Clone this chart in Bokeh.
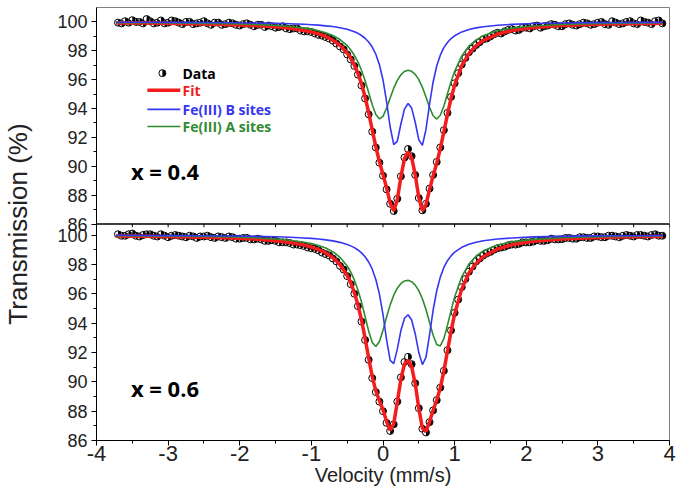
import math
from bokeh.plotting import figure
from bokeh.models import Range1d, FixedTicker, CustomJSTickFormatter, Span, Label
from bokeh.embed import file_html
from bokeh.resources import INLINE

# ---------------- data ----------------
# curve grid (mm/s)
curve_v = [-3.73, -3.3, -2.9, -2.5, -2.1, -1.8, -1.5, -1.3, -1.1, -1.0, -0.9, -0.8, -0.7, -0.6,
           -0.5, -0.45, -0.4, -0.35, -0.3, -0.25, -0.2, -0.15, -0.1, -0.05, 0.0, 0.05, 0.1, 0.15,
           0.2, 0.25, 0.3, 0.35, 0.4, 0.45, 0.5, 0.55, 0.6, 0.65, 0.7, 0.75, 0.8, 0.85, 0.9, 0.95, 1.0,
           1.1, 1.2, 1.3, 1.4, 1.6, 1.8, 2.1, 2.5, 2.9, 3.3, 3.7, 3.91]

top_fit = [99.93, 99.92, 99.895, 99.86, 99.81, 99.75, 99.66, 99.56, 99.41, 99.30, 99.17, 98.99, 98.73, 98.38,
           97.84, 97.48, 97.02, 96.44, 95.71, 94.80, 93.72, 92.52, 91.34, 90.31, 89.43, 88.50, 87.45, 86.91,
           87.69, 89.26, 90.53, 91.00, 90.61, 89.41, 87.83, 86.91, 87.35, 88.39, 89.34, 90.21, 91.22, 92.40,
           93.60, 94.70, 95.62,
           96.97, 97.81, 98.35, 98.72, 99.16, 99.40, 99.61, 99.75, 99.83, 99.87, 99.90, 99.91]
top_b = [99.98, 99.975, 99.97, 99.96, 99.94, 99.93, 99.90, 99.87, 99.84, 99.81, 99.78, 99.73, 99.68, 99.60,
         99.49, 99.41, 99.32, 99.21, 99.06, 98.87, 98.61, 98.26, 97.76, 97.04, 95.98, 94.48, 92.72, 91.50,
         91.74, 92.93, 93.96, 94.35, 94.03, 93.05, 91.83, 91.45, 92.55, 94.31, 95.84, 96.95, 97.70, 98.22,
         98.58, 98.85, 99.04,
         99.31, 99.48, 99.59, 99.67, 99.77, 99.83, 99.89, 99.93, 99.95, 99.96, 99.97, 99.97]
top_a = [99.95, 99.94, 99.93, 99.90, 99.87, 99.82, 99.76, 99.68, 99.57, 99.50, 99.39, 99.25, 99.06, 98.78,
         98.36, 98.06, 97.69, 97.23, 96.65, 95.93, 95.11, 94.26, 93.58, 93.28, 93.46, 94.02, 94.73, 95.41,
         95.95, 96.34, 96.57, 96.65, 96.58, 96.37, 96.00, 95.47, 94.80, 94.08, 93.50, 93.27, 93.53, 94.18,
         95.02, 95.85, 96.58,
         97.65, 98.33, 98.76, 99.05, 99.39, 99.57, 99.72, 99.82, 99.88, 99.91, 99.93, 99.94]

bot_fit = [99.93, 99.91, 99.88, 99.85, 99.79, 99.72, 99.61, 99.49, 99.31, 99.18, 99.01, 98.78, 98.46, 97.98,
           97.25, 96.74, 96.08, 95.24, 94.21, 92.97, 91.62, 90.35, 89.38, 88.72, 88.09, 87.29, 86.70, 87.14,
           88.62, 90.19, 91.20, 91.48, 91.03, 89.86, 88.20, 86.83, 86.60, 87.28, 88.06, 88.74, 89.58, 90.73,
           92.09, 93.43, 94.61,
           96.33, 97.41, 98.08, 98.52, 99.05, 99.33, 99.57, 99.72, 99.81, 99.86, 99.89, 99.90]
bot_b = [99.98, 99.97, 99.96, 99.95, 99.93, 99.91, 99.88, 99.85, 99.80, 99.77, 99.73, 99.67, 99.60, 99.50,
         99.36, 99.26, 99.14, 98.98, 98.78, 98.52, 98.16, 97.67, 96.97, 95.97, 94.58, 92.88, 91.46, 91.24,
         92.24, 93.49, 94.33, 94.57, 94.21, 93.26, 91.99, 91.17, 91.67, 93.22, 94.89, 96.20, 97.13, 97.79,
         98.25, 98.58, 98.83,
         99.16, 99.37, 99.51, 99.61, 99.73, 99.80, 99.87, 99.91, 99.94, 99.95, 99.96, 99.97]
bot_a = [99.95, 99.94, 99.92, 99.90, 99.86, 99.81, 99.73, 99.64, 99.51, 99.42, 99.29, 99.11, 98.86, 98.48,
         97.89, 97.47, 96.94, 96.26, 95.43, 94.45, 93.45, 92.68, 92.41, 92.75, 93.51, 94.41, 95.24, 95.90,
         96.38, 96.70, 96.87, 96.91, 96.82, 96.59, 96.21, 95.66, 94.93, 94.05, 93.17, 92.54, 92.44, 92.94,
         93.84, 94.85, 95.78,
         97.17, 98.03, 98.57, 98.92, 99.32, 99.53, 99.70, 99.81, 99.87, 99.90, 99.93, 99.93]

# measured points (mm/s), 0.05 mm/s channels
data_v = [-3.7, -3.65, -3.6, -3.55, -3.5, -3.45, -3.4, -3.35, -3.3, -3.25, -3.2, -3.15, -3.1, -3.05,
          -3.0, -2.95, -2.9, -2.85, -2.8, -2.75, -2.7, -2.65, -2.6, -2.55, -2.5, -2.45, -2.4, -2.35,
          -2.3, -2.25, -2.2, -2.15, -2.1, -2.05, -2.0, -1.95, -1.9, -1.85, -1.8, -1.75, -1.7, -1.65,
          -1.6, -1.55, -1.5, -1.45, -1.4, -1.35, -1.3, -1.25, -1.2, -1.15, -1.1, -1.05, -1.0, -0.95,
          -0.9, -0.85, -0.8, -0.75, -0.7, -0.65, -0.6,
          -0.55, -0.5, -0.45, -0.4, -0.35, -0.3, -0.25, -0.2, -0.15, -0.1, -0.05, 0.0, 0.05, 0.1, 0.15,
          0.2, 0.25, 0.3, 0.35, 0.4, 0.45, 0.5, 0.55, 0.6, 0.65, 0.7, 0.75, 0.8, 0.85, 0.9, 0.95, 1.0,
          1.05, 1.1, 1.15, 1.2, 1.25, 1.3, 1.35, 1.4, 1.45, 1.5, 1.55, 1.6, 1.65, 1.7, 1.75, 1.8, 1.85,
          1.9, 1.95, 2.0, 2.05, 2.1, 2.15, 2.2, 2.25, 2.3, 2.35, 2.4, 2.45, 2.5, 2.55, 2.6, 2.65, 2.7,
          2.75, 2.8, 2.85, 2.9, 2.95, 3.0, 3.05, 3.1, 3.15, 3.2, 3.25, 3.3, 3.35, 3.4, 3.45, 3.5, 3.55,
          3.6, 3.65, 3.7, 3.75, 3.8, 3.85, 3.9]
top_data = [99.95, 99.9, 100.05, 99.95, 100.12, 100.0, 100.0, 99.9, 100.2, 100.05, 99.9, 99.95, 100.1, 99.9,
            99.95, 100.1, 100.05, 99.95, 99.85, 100.0, 100.0, 99.85, 99.9, 99.95, 100.05, 99.9, 99.8, 99.95,
            99.95, 99.8, 99.85, 99.95, 99.9, 99.8, 99.75, 99.85, 99.9, 99.8, 99.7, 99.8, 99.8, 99.65,
            99.75, 99.7, 99.6, 99.65, 99.7, 99.55, 99.5, 99.55, 99.55, 99.4, 99.35, 99.35, 99.3, 99.2,
            99.1, 99.05, 98.95, 98.85, 98.7, 98.5, 98.3,
            98.1, 97.75, 97.4, 96.95, 96.35, 95.6, 94.7, 93.6, 92.4, 91.3, 90.25, 89.35, 88.4, 87.4, 86.9,
            87.75, 89.3, 90.6, 91.2, 90.7, 89.4, 87.8, 86.95, 87.4, 88.45, 89.4, 90.3, 91.3, 92.5, 93.7,
            94.8, 95.75,
            96.45, 97.05, 97.5, 97.9, 98.15, 98.4, 98.6, 98.8, 98.85, 99.0, 99.15, 99.25, 99.2, 99.35,
            99.45, 99.5, 99.4, 99.45, 99.6, 99.6, 99.55, 99.7, 99.75, 99.6, 99.7, 99.75, 99.85, 99.8,
            99.7, 99.7, 99.85, 99.9, 99.8, 99.75, 99.85, 99.95, 99.9, 99.8, 99.85, 99.95, 100.0, 99.85,
            99.8, 100.05, 99.95, 99.85, 99.9, 100.0, 100.05, 99.9, 99.85, 100.1, 100.0, 99.95, 99.85,
            100.05, 100.1, 99.9]
bot_data = [100.05, 99.95, 99.95, 100.05, 100.1, 99.95, 99.9, 100.0, 100.05, 100.05, 99.95, 99.9, 100.05,
            99.95, 99.85, 99.95, 100.0, 99.95, 99.9, 99.85, 99.95, 99.9, 99.8, 99.9, 99.9, 99.95, 99.85,
            99.8, 99.9, 99.85, 99.8, 99.9, 99.85, 99.75, 99.75, 99.8, 99.8, 99.7, 99.7, 99.75, 99.7, 99.6,
            99.6, 99.65, 99.6, 99.5, 99.5, 99.5, 99.45, 99.35, 99.35, 99.3, 99.25, 99.15, 99.1, 99.05,
            98.95, 98.8, 98.7, 98.6, 98.4, 98.2, 97.9,
            97.65, 97.2, 96.65, 96.0, 95.15, 94.1, 92.85, 91.5, 90.25, 89.3, 88.65, 88.0, 87.2, 86.65, 87.1,
            88.65, 90.3, 91.35, 91.7, 91.2, 89.9, 88.2, 86.8, 86.55, 87.25, 88.05, 88.75, 89.6, 90.75,
            92.15, 93.5, 94.7,
            95.6, 96.45, 97.0, 97.5, 97.85, 98.2, 98.4, 98.6, 98.75, 98.85, 99.0, 99.1, 99.15, 99.2, 99.3,
            99.35, 99.35, 99.4, 99.5, 99.5, 99.5, 99.55, 99.65, 99.6, 99.6, 99.65, 99.75, 99.7, 99.7,
            99.72, 99.8, 99.8, 99.75, 99.75, 99.85, 99.85, 99.8, 99.8, 99.9, 99.9, 99.85, 99.85, 99.95,
            99.95, 99.9, 99.85, 99.95, 100.0, 99.95, 99.9, 100.0, 100.0, 99.95, 99.9, 100.0, 100.05,
            99.95, 99.95]

x_ticks = [-4, -3, -2, -1, 0, 1, 2, 3, 4]
x_minor = [-3.5, -2.5, -1.5, -0.5, 0.5, 1.5, 2.5, 3.5]
y_ticks = [86, 88, 90, 92, 94, 96, 98, 100]
y_minor = [87, 89, 91, 93, 95, 97, 99]
legend_labels = ["Data", "Fit", "Fe(III) B sites", "Fe(III) A sites"]
panel_labels = ["x = 0.4", "x = 0.6"]

# ---------------- ranges ----------------
BOT_LO, BOT_HI = 86.0, 115.5      # bottom panel occupies 86 .. 100.75
TOP_LO, TOP_HI = 71.0, 101.0      # top panel occupies 86 .. 101
SEP = BOT_LO + (BOT_HI - BOT_LO) * (86.0 - TOP_LO) / (TOP_HI - TOP_LO)


def top_to_bot(t):
    return BOT_LO + (BOT_HI - BOT_LO) * (t - TOP_LO) / (TOP_HI - TOP_LO)


RED = "#f41c1c"
BLUE = "#3535f2"
GREEN = "#2f8b2f"
TXT = "#222222"
FONT = "Liberation Sans"
BFONT = "Open Sans"

p = figure(width=679, height=502, output_backend="svg", toolbar_location=None,
           x_range=Range1d(-4, 4), y_range=Range1d(BOT_LO, BOT_HI),
           min_border_left=96, min_border_right=10, min_border_top=7, min_border_bottom=62)
p.extra_y_ranges = {"top": Range1d(TOP_LO, TOP_HI)}
p.xgrid.visible = False
p.ygrid.visible = False
p.outline_line_color = "#808080"
p.outline_line_width = 1
p.background_fill_color = "white"
p.border_fill_color = "white"

# axes
p.xaxis.ticker = FixedTicker(ticks=x_ticks, minor_ticks=x_minor)
p.xaxis.formatter = CustomJSTickFormatter(code="return String(tick);")
top_major = [top_to_bot(t) for t in y_ticks]
top_minor = [top_to_bot(t) for t in y_minor]
p.yaxis.ticker = FixedTicker(ticks=y_ticks + top_major, minor_ticks=y_minor + top_minor)
p.yaxis.formatter = CustomJSTickFormatter(
    args=dict(sep=SEP - 0.05, blo=BOT_LO, bhi=BOT_HI, tlo=TOP_LO, thi=TOP_HI),
    code="""
    if (tick > sep) {
        return String(Math.round(tlo + (tick - blo) * (thi - tlo) / (bhi - blo)));
    }
    return String(Math.round(tick));
    """)
for ax in (p.xaxis[0], p.yaxis[0]):
    ax.axis_line_color = "black"
    ax.axis_line_width = 1
    ax.major_tick_line_color = "black"
    ax.minor_tick_line_color = "black"
    ax.major_tick_out = 5
    ax.major_tick_in = 0
    ax.minor_tick_out = 3
    ax.minor_tick_in = 0
    ax.major_label_text_font = FONT
    ax.major_label_text_color = TXT
    ax.axis_label_text_font = FONT
    ax.axis_label_text_font_style = "normal"
    ax.axis_label_text_color = TXT

p.xaxis.major_label_text_font_size = "22px"
p.xaxis.major_label_standoff = 0
p.xaxis.axis_label = "Velocity (mm/s)"
p.xaxis.axis_label_text_font_size = "20px"
p.xaxis.axis_label_standoff = 0

p.yaxis.major_label_text_font_size = "18px"
p.yaxis.major_label_standoff = 4
p.yaxis.axis_label = "Transmission (%)"
p.yaxis.axis_label_text_font_size = "26px"
p.yaxis.axis_label_standoff = 21

# separator between the two panels, with the upper panel's x ticks
p.add_layout(Span(location=SEP, dimension="width", line_color="black", line_width=1.5))
sep_ticks = sorted(x_ticks + x_minor)
p.segment(x0=sep_ticks, y0=[SEP] * len(sep_ticks), x1=sep_ticks,
          y1=[SEP - 0.22] * len(sep_ticks), line_color="black", line_width=1)


def data_markers(xs, ys, rng):
    kw = {} if rng is None else {"y_range_name": rng}
    p.scatter(xs, ys, size=7, marker="circle", fill_color="white", line_color="black",
              line_width=1, **kw)
    p.wedge(xs, ys, radius=3.2, radius_units="screen", start_angle=-math.pi / 2,
            end_angle=math.pi / 2, fill_color="black", line_color=None, **kw)


# ---- top panel (x = 0.4)
data_markers(data_v, top_data, "top")
p.line(curve_v, top_fit, y_range_name="top", line_color=RED, line_width=3.5)
p.line(curve_v, top_a, y_range_name="top", line_color=GREEN, line_width=1.6)
p.line(curve_v, top_b, y_range_name="top", line_color=BLUE, line_width=1.6)

# ---- bottom panel (x = 0.6)
data_markers(data_v, bot_data, None)
p.line(curve_v, bot_fit, line_color=RED, line_width=3.5)
p.line(curve_v, bot_a, line_color=GREEN, line_width=1.6)
p.line(curve_v, bot_b, line_color=BLUE, line_width=1.6)

# ---- legend (upper panel)
leg_y = [96.45, 95.27, 93.94, 92.76]
leg_col = ["black", RED, BLUE, GREEN]
data_markers([-3.08], [leg_y[0]], "top")
for yy, col, lw in zip(leg_y[1:], leg_col[1:], [3.5, 1.6, 1.6]):
    p.line([-3.29, -2.83], [yy, yy], y_range_name="top", line_color=col, line_width=lw)
for yy, col, txt in zip(leg_y, leg_col, legend_labels):
    p.add_layout(Label(x=-2.80, y=yy, y_range_name="top", text=txt, text_color=col,
                       text_font=BFONT, text_font_style="bold", text_font_size="14px",
                       text_baseline="middle", text_align="left"))

# ---- panel labels
p.add_layout(Label(x=-3.52, y=89.7, y_range_name="top", text=panel_labels[0], text_color="black",
                   text_font=BFONT, text_font_style="bold", text_font_size="22px",
                   text_baseline="middle"))
p.add_layout(Label(x=-3.52, y=89.6, text=panel_labels[1], text_color="black",
                   text_font=BFONT, text_font_style="bold", text_font_size="22px",
                   text_baseline="middle"))

open("out.html", "w").write(file_html(p, INLINE))
